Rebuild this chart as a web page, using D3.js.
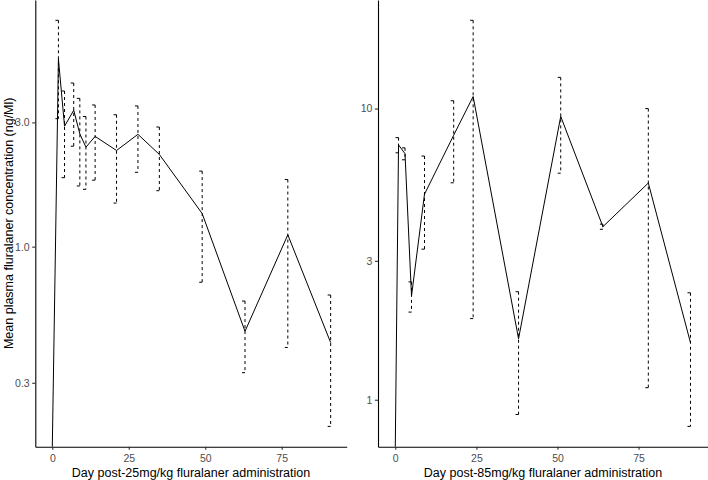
<!DOCTYPE html>
<html><head><meta charset="utf-8">
<script src="https://cdn.jsdelivr.net/npm/d3@7"></script>
<style>body{margin:0;background:#fff} svg{display:block;font-family:"Liberation Sans",Arial,sans-serif}</style>
</head><body><svg id="c" width="708" height="480"></svg>
<script>
// ---- data ----
const daysLeft  = [0, 2, 4, 7, 9, 11, 14, 21, 28, 35, 49, 63, 77, 91];
const meanLeft  = [0, 5.25, 2.9, 3.34, 2.71, 2.41, 2.65, 2.34, 2.70, 2.26, 1.34, 0.473, 1.11, 0.428];
const sdLeft    = [null, 2.15, 1.06, 0.91, 1.0, 0.75, 0.85, 0.87, 0.77, 0.62, 0.61, 0.145, 0.70, 0.224];
const daysRight = [0, 1, 3, 5, 9, 18, 24, 38, 51, 64, 78, 91];
const meanRight = [0, 7.5, 7.0, 2.27, 5.08, 8.1, 11.0, 1.62, 9.4, 3.93, 5.55, 1.57];
const sdRight   = [null, 0.45, 0.33, 0.27, 1.79, 2.54, 9.1, 0.73, 3.4, 0.08, 4.45, 0.76];
const xTicks = [0, 25, 50, 75];
const yTicksLeft = [0.3, 1, 3];
const yTickLabelsLeft = ["0.3", "1.0", "3.0"];
const yTicksRight = [1, 3, 10];
const yTickLabelsRight = ["1", "3", "10"];
const yTitle = "Mean plasma fluralaner concentration (ng/Ml)";
const xTitleLeft = "Day post-25mg/kg fluralaner administration";
const xTitleRight = "Day post-85mg/kg fluralaner administration";

const svg = d3.select("#c");

function panel(cfg) {
  const {days, mean, sd, x0, x1, y0, y1, xDom, ticksY, labelsY, xTitle} = cfg;
  const rows = days.map((d, i) => ({d, m: mean[i], s: sd[i]}));
  const lows = rows.filter(r => r.s != null).map(r => Math.log10(r.m - r.s));
  const highs = rows.filter(r => r.s != null).map(r => Math.log10(r.m + r.s));
  const lo = d3.min(lows), hi = d3.max(highs), pad = (hi - lo) * 0.05;
  const x = d3.scaleLinear().domain(xDom).range([x0, x1]);
  const y = d3.scaleLog().domain([Math.pow(10, lo - pad), Math.pow(10, hi + pad)]).range([y1, y0]);
  const yv = v => v > 0 ? y(v) : y1;
  const g = svg.append("g");

  // error bars
  const eb = g.append("g").attr("fill", "none").attr("stroke", "#000").attr("stroke-width", 1)
    .attr("stroke-dasharray", "3,3");
  rows.filter(r => r.s != null).forEach(r => {
    const cx = x(r.d), yt = y(r.m + r.s), yb = y(r.m - r.s);
    eb.append("line").attr("x1", cx - 3).attr("x2", cx + 3).attr("y1", yt).attr("y2", yt);
    eb.append("line").attr("x1", cx).attr("x2", cx).attr("y1", yt).attr("y2", yb);
    eb.append("line").attr("x1", cx - 3).attr("x2", cx + 3).attr("y1", yb).attr("y2", yb);
  });

  // mean line
  g.append("path").datum(rows)
    .attr("fill", "none").attr("stroke", "#000").attr("stroke-width", 1)
    .attr("d", d3.line().x(r => x(r.d)).y(r => yv(r.m)));

  // axes
  const ax = g.append("g").attr("transform", `translate(0,${y1})`)
    .call(d3.axisBottom(x).tickValues(xTicks).tickSize(3.1).tickSizeOuter(0).tickPadding(5));
  const ay = g.append("g").attr("transform", `translate(${x0},0)`)
    .call(d3.axisLeft(y).tickValues(ticksY).tickFormat((d, i) => labelsY[i]).tickSize(3.1).tickSizeOuter(0).tickPadding(2.5));
  [ax, ay].forEach(a => {
    a.select(".domain").attr("stroke", "#000").attr("stroke-width", 1.1);
    a.selectAll(".tick line").attr("stroke", "#333").attr("stroke-width", 1.1);
    a.selectAll(".tick text").attr("fill", "#4d4d4d").style("font-size", "10.5px").attr("font-family", null);
  });

  g.append("text").attr("x", (x0 + x1) / 2).attr("y", 477).attr("text-anchor", "middle")
    .style("font-size", "12.5px").attr("fill", "#000").text(xTitle);
  return {x, y};
}

panel({days: daysLeft, mean: meanLeft, sd: sdLeft, x0: 35.3, x1: 346.7, y0: 0, y1: 446.7,
  xDom: [-5.56, 96.25], ticksY: yTicksLeft, labelsY: yTickLabelsLeft, xTitle: xTitleLeft});
panel({days: daysRight, mean: meanRight, sd: sdRight, x0: 378, x1: 708, y0: 0, y1: 446.7,
  xDom: [-5.33, 96.4], ticksY: yTicksRight, labelsY: yTickLabelsRight, xTitle: xTitleRight});

svg.append("text").attr("transform", "translate(12.7,223.3) rotate(-90)")
  .attr("text-anchor", "middle").style("font-size", "12.5px").attr("fill", "#000").text(yTitle);
</script></body></html>
